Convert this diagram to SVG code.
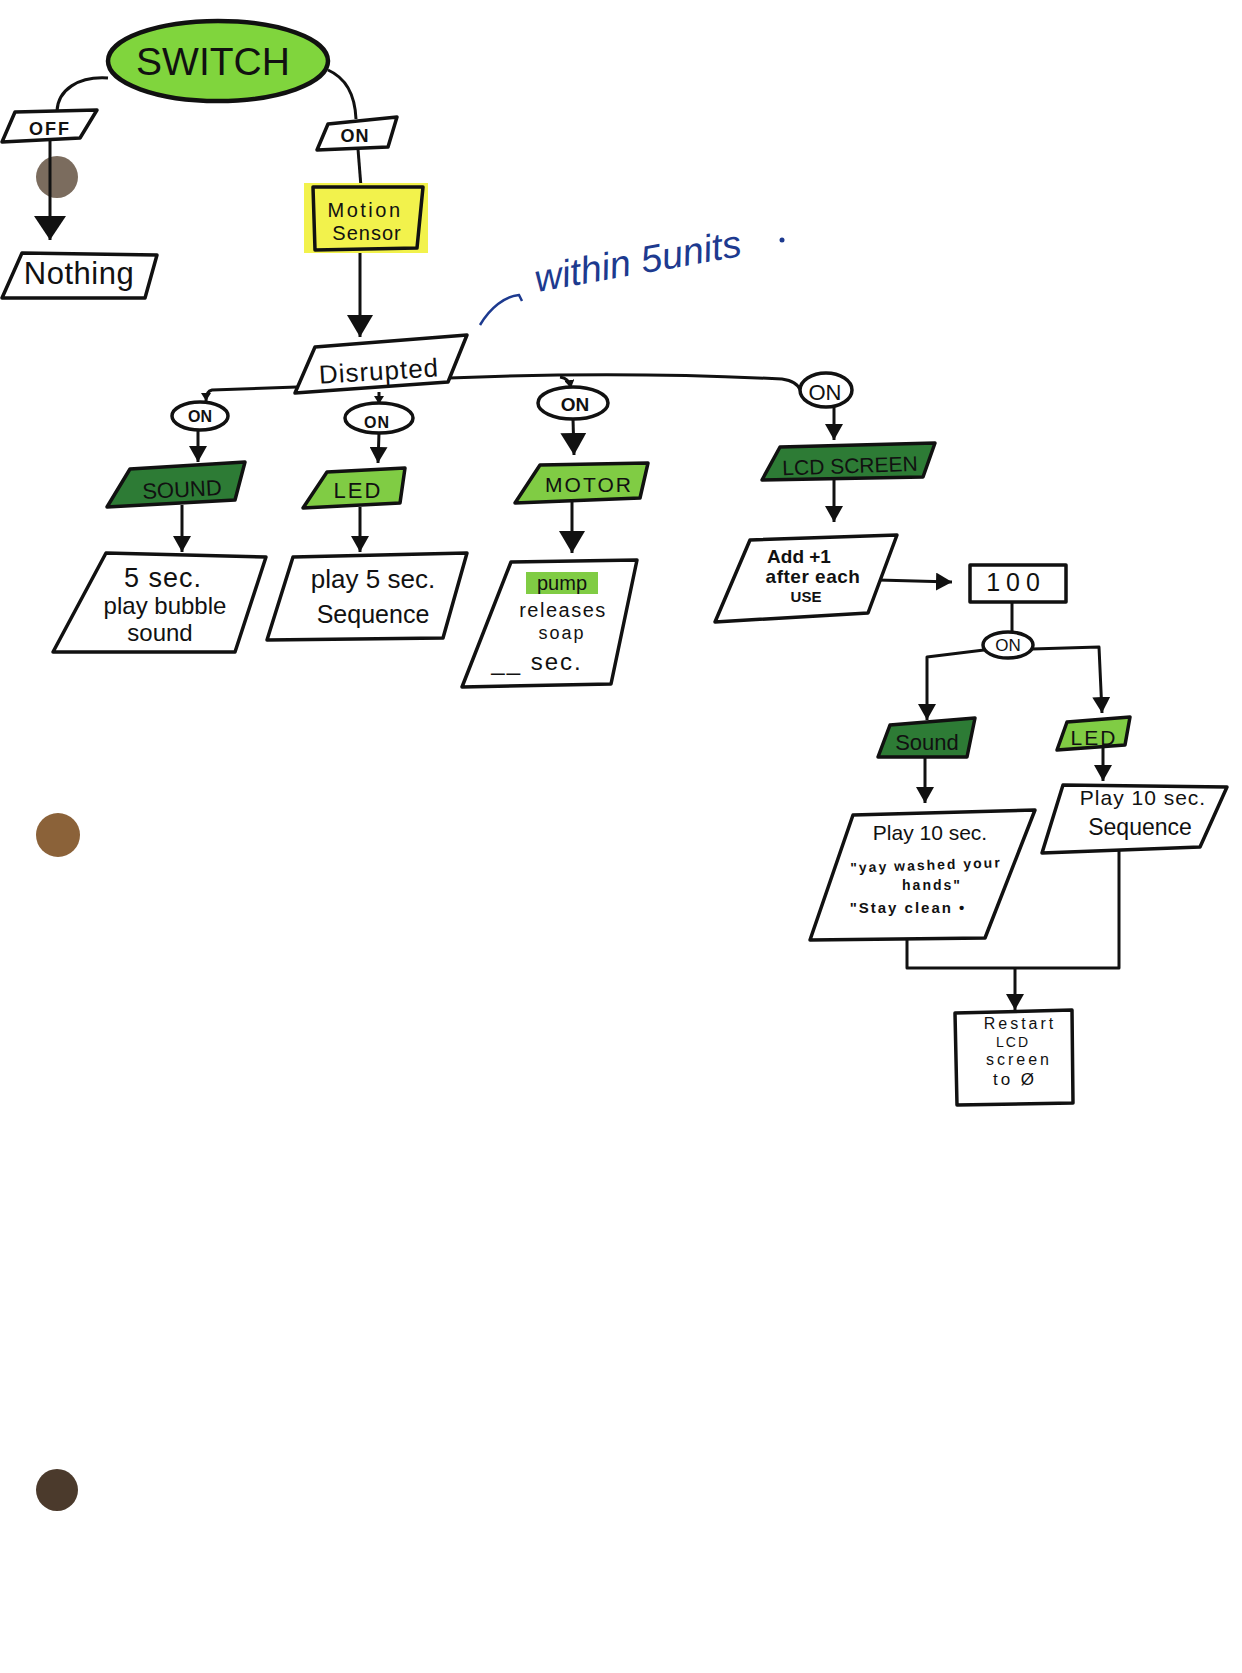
<svg xmlns="http://www.w3.org/2000/svg" width="1242" height="1673" viewBox="0 0 1242 1673">
<style>
.n{fill:#fff;stroke:#111;stroke-width:3.5;stroke-linejoin:round}
.lg{fill:#80cc44}
.dg{fill:#2d7b35}
.yl{fill:#f2f24c}
.sw{fill:#80d53d}
.t{font-family:"Liberation Sans",Arial,sans-serif;fill:#111;text-anchor:middle}
.b{font-weight:bold}
.c{fill:none;stroke:#111;stroke-width:3;stroke-linejoin:round}
.blue{font-family:"Liberation Sans",Arial,sans-serif;font-style:italic;fill:#1d3a8f}
</style>
<defs>
<marker id="arr" viewBox="0 0 16 18" refX="16" refY="9" markerWidth="16" markerHeight="18" markerUnits="userSpaceOnUse" orient="auto"><path d="M0,0 L16,9 L0,18 Z" fill="#111"/></marker>
<marker id="arrL" viewBox="0 0 24 32" refX="24" refY="16" markerWidth="24" markerHeight="32" markerUnits="userSpaceOnUse" orient="auto"><path d="M0,0 L24,16 L0,32 Z" fill="#111"/></marker>
<marker id="arrM" viewBox="0 0 22 26" refX="22" refY="13" markerWidth="22" markerHeight="26" markerUnits="userSpaceOnUse" orient="auto"><path d="M0,0 L22,13 L0,26 Z" fill="#111"/></marker>
<marker id="arrS" viewBox="0 0 8 10" refX="8" refY="5" markerWidth="8" markerHeight="10" markerUnits="userSpaceOnUse" orient="auto"><path d="M0,0 L8,5 L0,10 Z" fill="#111"/></marker>
</defs>
<rect width="1242" height="1673" fill="#fff"/>

<!-- paper holes -->
<circle cx="57" cy="177" r="21" fill="#7b6c5e"/>
<circle cx="58" cy="835" r="22" fill="#8b6239"/>
<circle cx="57" cy="1490" r="21" fill="#4b3a2c"/>

<g id="connectors">
<path class="c" d="M108,78 C78,76 58,90 57,111"/>
<path class="c" d="M50,140 L50,240" marker-end="url(#arrL)"/>
<path class="c" d="M328,70 C346,78 355,95 356,119"/>
<path class="c" d="M358,149 L361,187"/>
<path class="c" d="M360,250 L360,337" marker-end="url(#arrM)"/>
<path class="c" d="M297,387 L212,390 Q206,391 206,401" marker-end="url(#arrS)"/>
<path class="c" d="M379,392 L379,404" marker-end="url(#arrS)"/>
<path class="c" d="M449,378 Q620,371 782,379 Q797,381 801,391"/>
<path class="c" d="M560,377 Q569,378 571,388" marker-end="url(#arrS)"/>
<path class="c" d="M198,430 L198,462" marker-end="url(#arr)"/>
<path class="c" d="M379,433 L378,463" marker-end="url(#arr)"/>
<path class="c" d="M573,419 L574,455" marker-end="url(#arrM)"/>
<path class="c" d="M834,407 L834,440" marker-end="url(#arr)"/>
<path class="c" d="M182,505 L182,552" marker-end="url(#arr)"/>
<path class="c" d="M360,507 L360,552" marker-end="url(#arr)"/>
<path class="c" d="M572,501 L572,553" marker-end="url(#arrM)"/>
<path class="c" d="M834,479 L834,522" marker-end="url(#arr)"/>
<path class="c" d="M878,580 L952,582" marker-end="url(#arr)"/>
<path class="c" d="M1012,602 L1012,632"/>
<path class="c" d="M984,650 L927,657 L927,720" marker-end="url(#arr)"/>
<path class="c" d="M1032,649 L1099,647 L1102,713" marker-end="url(#arr)"/>
<path class="c" d="M925,757 L925,803" marker-end="url(#arr)"/>
<path class="c" d="M1103,748 L1103,781" marker-end="url(#arr)"/>
<path class="c" d="M907,939 L907,968 L1119,968 L1119,848"/>
<path class="c" d="M1015,968 L1015,1010" marker-end="url(#arr)"/>
</g>

<g id="switch">
<ellipse cx="218" cy="61" rx="110" ry="40" class="sw"/>
<ellipse cx="218" cy="61" rx="110" ry="40" fill="none" stroke="#111" stroke-width="4.5"/>
<text class="t" x="213" y="75" font-size="39">SWITCH</text>
</g>

<g id="off">
<polygon class="n" points="15,112 97,110 80,138 2,142"/>
<text class="t b" x="50" y="135" font-size="18" letter-spacing="2">OFF</text>
</g>

<g id="nothing">
<polygon class="n" points="22,253 157,255 145,298 2,298"/>
<text class="t" x="79" y="284" font-size="31" letter-spacing="0.5">Nothing</text>
</g>

<g id="on-switch">
<polygon class="n" points="328,124 397,117 388,147 317,150"/>
<text class="t b" x="355" y="142" font-size="18" letter-spacing="1">ON</text>
</g>

<g id="motion-sensor">
<rect x="304" y="183" width="124" height="70" class="yl"/>
<polygon class="n" style="fill:none" points="313,187 423,187 417,248 315,250"/>
<text class="t" x="365" y="217" font-size="20" letter-spacing="2.5">Motion</text>
<text class="t" x="367" y="240" font-size="20" letter-spacing="1">Sensor</text>
</g>

<g id="annotation">
<path d="M480,325 C490,308 505,296 519,295 L522,301" fill="none" stroke="#1d3a8f" stroke-width="2.5"/>
<text class="blue" x="537" y="292" font-size="38" transform="rotate(-10 537 292)">within 5units</text>
<circle cx="782" cy="240" r="2.5" fill="#1d3a8f"/>
</g>

<g id="disrupted">
<polygon class="n" points="315,347 467,335 448,382 295,393"/>
<text class="t" x="379" y="380" font-size="26" letter-spacing="1" transform="rotate(-3.5 379 372)">Disrupted</text>
</g>

<g id="on-sound">
<ellipse class="n" cx="200" cy="416" rx="28" ry="14"/>
<text class="t b" x="200" y="422" font-size="16">ON</text>
</g>
<g id="on-led">
<ellipse class="n" cx="379" cy="418" rx="34" ry="15"/>
<text class="t b" x="377" y="428" font-size="16" letter-spacing="1">ON</text>
</g>
<g id="on-motor">
<ellipse class="n" cx="573" cy="403" rx="35" ry="16"/>
<text class="t b" x="575" y="411" font-size="19">ON</text>
</g>
<g id="on-lcd">
<ellipse class="n" cx="826" cy="390" rx="26" ry="17"/>
<text class="t" x="825" y="400" font-size="22">ON</text>
</g>

<g id="sound">
<polygon class="n dg" points="130,469 245,462 235,500 107,507"/>
<text class="t" x="182" y="497" font-size="22" transform="rotate(-3 182 490)">SOUND</text>
</g>
<g id="led">
<polygon class="n lg" points="327,472 405,468 400,503 303,508"/>
<text class="t" x="358" y="498" font-size="22" letter-spacing="2">LED</text>
</g>
<g id="motor">
<polygon class="n lg" points="540,465 648,463 640,498 515,503"/>
<text class="t" x="589" y="492" font-size="21" letter-spacing="2">MOTOR</text>
</g>
<g id="lcd-screen">
<polygon class="n dg" points="780,447 935,443 923,477 762,480"/>
<text class="t" x="850" y="473" font-size="21" transform="rotate(-2 850 466)">LCD SCREEN</text>
</g>

<g id="sound-5sec">
<polygon class="n" points="106,553 266,557 235,652 53,652"/>
<text class="t" x="163" y="587" font-size="27" letter-spacing="1">5 sec.</text>
<text class="t" x="165" y="614" font-size="24">play bubble</text>
<text class="t" x="160" y="641" font-size="24">sound</text>
</g>
<g id="led-5sec">
<polygon class="n" points="293,557 467,553 443,638 267,640"/>
<text class="t" x="373" y="588" font-size="26">play 5 sec.</text>
<text class="t" x="373" y="623" font-size="25">Sequence</text>
</g>
<g id="pump">
<polygon class="n" points="511,562 637,560 611,684 462,687"/>
<rect x="526" y="572" width="72" height="22" class="lg"/>
<text class="t" x="562" y="590" font-size="20">pump</text>
<text class="t" x="563" y="617" font-size="20" letter-spacing="1.5">releases</text>
<text class="t" x="562" y="639" font-size="18" letter-spacing="2">soap</text>
<text class="t" x="537" y="670" font-size="24" letter-spacing="2">__ sec.</text>
</g>
<g id="add-one">
<polygon class="n" points="750,540 897,535 868,613 715,622"/>
<text class="t b" x="799" y="563" font-size="19">Add +1</text>
<text class="t b" x="813" y="583" font-size="19" letter-spacing="0.5">after each</text>
<text class="t b" x="806" y="602" font-size="15">USE</text>
</g>
<g id="count-100">
<rect class="n" x="970" y="565" width="96" height="37"/>
<text class="t" x="1016" y="591" font-size="25" letter-spacing="6">100</text>
</g>
<g id="on-100">
<ellipse class="n" cx="1008" cy="645" rx="25" ry="13"/>
<text class="t" x="1008" y="651" font-size="17">ON</text>
</g>
<g id="sound-2">
<polygon class="n dg" points="890,725 975,718 967,757 878,757"/>
<text class="t" x="927" y="750" font-size="22">Sound</text>
</g>
<g id="led-2">
<polygon class="n lg" points="1067,722 1130,717 1125,745 1057,750"/>
<text class="t" x="1094" y="745" font-size="21" letter-spacing="2">LED</text>
</g>
<g id="sound-10sec">
<polygon class="n" points="853,815 1035,810 985,938 810,940"/>
<text class="t" x="930" y="840" font-size="21">Play 10 sec.</text>
<text class="t b" x="926" y="870" font-size="14" letter-spacing="2" transform="rotate(-2 926 866)">"yay washed your</text>
<text class="t b" x="932" y="890" font-size="14" letter-spacing="2">hands"</text>
<text class="t b" x="908" y="913" font-size="15" letter-spacing="2">"Stay clean •</text>
</g>
<g id="led-10sec">
<polygon class="n" points="1063,785 1227,787 1200,847 1042,853"/>
<text class="t" x="1143" y="805" font-size="21" letter-spacing="1">Play 10 sec.</text>
<text class="t" x="1140" y="835" font-size="23">Sequence</text>
</g>
<g id="restart">
<polygon class="n" points="955,1013 1072,1010 1073,1103 957,1105"/>
<text class="t" x="1020" y="1029" font-size="16" letter-spacing="3">Restart</text>
<text class="t" x="1013" y="1047" font-size="14" letter-spacing="2">LCD</text>
<text class="t" x="1019" y="1065" font-size="16" letter-spacing="3">screen</text>
<text class="t" x="1015" y="1085" font-size="17" letter-spacing="3">to Ø</text>
</g>
</svg>
